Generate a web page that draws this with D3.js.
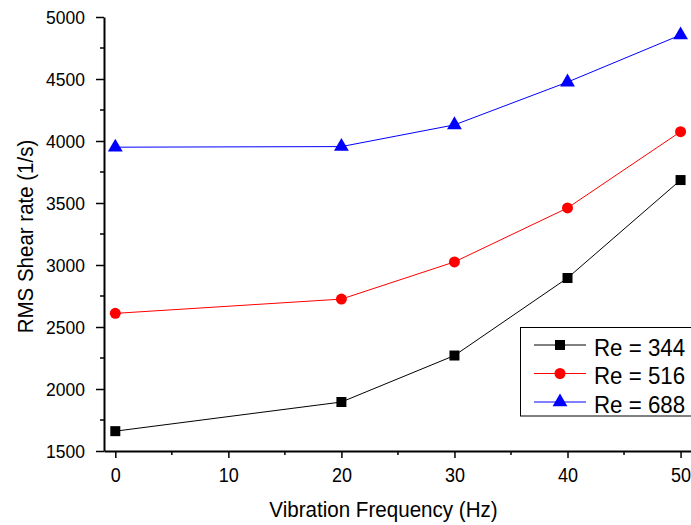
<!DOCTYPE html>
<html><head><meta charset="utf-8">
<script src="https://cdn.jsdelivr.net/npm/d3@7"></script>
<style>body{margin:0;background:#fff}svg{display:block}text{font-family:Arial,"Liberation Sans",sans-serif}</style>
</head><body><svg id="c" width="691" height="525"></svg>
<script>
const freq = [0, 20, 30, 40, 50];
const re344 = [1660, 1895, 2270, 2895, 3685];
const re516 = [2610, 2725, 3025, 3460, 4075];
const re688 = [3950, 3955, 4130, 4475, 4855];
const seriesNames = ["Re = 344", "Re = 516", "Re = 688"];
const seriesColors = ["#000000", "#ff0000", "#0000ff"];
const seriesSymbols = [d3.symbolSquare, d3.symbolCircle, d3.symbolTriangle];
const xTicks = [0, 10, 20, 30, 40, 50];
const yTicks = [1500, 2000, 2500, 3000, 3500, 4000, 4500, 5000];

const VS = 1.1; // glyph height stretch
const svg = d3.select("#c");
const x = d3.scaleLinear().domain([-1, 51.1]).range([104, 693]);
const y = d3.scaleLinear().domain([1500, 5000]).range([451, 17]);

// axes
const xAxis = d3.axisBottom(x).tickValues(xTicks).tickFormat(d3.format("d")).tickSize(7).tickSizeOuter(0);
const gx = svg.append("g").attr("transform", "translate(0,451)").call(xAxis);
gx.selectAll(".tick text").attr("font-size", 18).attr("fill", "#000")
  .attr("y", 0).attr("dy", 0).attr("transform", `translate(0,30.5) scale(1,${VS})`);
gx.append("g").selectAll("line").data(d3.range(5, 50, 10)).join("line")
  .attr("x1", d => x(d)).attr("x2", d => x(d)).attr("y1", 0).attr("y2", 4).attr("stroke", "#000").attr("stroke-width", 1.5);

const yAxis = d3.axisLeft(y).tickValues(yTicks).tickFormat(d3.format("d")).tickSize(8).tickSizeOuter(0);
const gy = svg.append("g").attr("transform", "translate(104,0)").call(yAxis);
gy.selectAll(".tick text").attr("font-size", 17.5).attr("fill", "#000")
  .attr("x", 0).attr("dy", 0).attr("transform", `translate(-19,6.5) scale(1,${VS})`);
gy.append("g").selectAll("line").data(d3.range(1750, 5000, 500)).join("line")
  .attr("x1", 0).attr("x2", -4).attr("y1", d => y(d)).attr("y2", d => y(d)).attr("stroke", "#000").attr("stroke-width", 1.5);
[gx, gy].forEach(g => {
  g.select(".domain").attr("stroke", "#000").attr("stroke-width", 2);
  g.selectAll(".tick line").attr("stroke", "#000").attr("stroke-width", 1.5);
});

// titles
svg.append("text").attr("transform", `translate(383.5,517) scale(1,${VS})`).attr("text-anchor", "middle")
  .attr("font-size", 20.6).text("Vibration Frequency (Hz)");
svg.append("text").attr("transform", `translate(33,236.5) rotate(-90) scale(1,${VS})`).attr("text-anchor", "middle")
  .attr("font-size", 20.5).text("RMS Shear rate (1/s)");

// series
const allSeries = [re344, re516, re688];
const line = d3.line().x((d, i) => x(freq[i])).y(d => y(d));
const symSizes = [100, 95, 95];
allSeries.forEach((vals, s) => {
  svg.append("path").datum(vals).attr("d", line).attr("fill", "none")
    .attr("stroke", seriesColors[s]).attr("stroke-width", 1);
  svg.append("g").selectAll("path").data(vals).join("path")
    .attr("transform", (d, i) => `translate(${x(freq[i])},${y(d)})`)
    .attr("d", d3.symbol().type(seriesSymbols[s]).size(symSizes[s]))
    .attr("fill", seriesColors[s]);
});

// legend
const lg = svg.append("g");
lg.append("rect").attr("x", 520.5).attr("y", 327.5).attr("width", 180).attr("height", 88.5)
  .attr("fill", "#fff").attr("stroke", "#000").attr("stroke-width", 1);
seriesNames.forEach((n, s) => {
  const yy = 345 + s * 28.5;
  lg.append("line").attr("x1", 534).attr("x2", 586).attr("y1", yy).attr("y2", yy)
    .attr("stroke", seriesColors[s]).attr("stroke-width", 1);
  lg.append("path").attr("transform", `translate(560,${yy})`)
    .attr("d", d3.symbol().type(seriesSymbols[s]).size(symSizes[s])).attr("fill", seriesColors[s]);
  lg.append("text").attr("transform", `translate(594,${yy + 10.5}) scale(1,${VS})`)
    .attr("font-size", 22.3).text(n);
});
</script></body></html>
